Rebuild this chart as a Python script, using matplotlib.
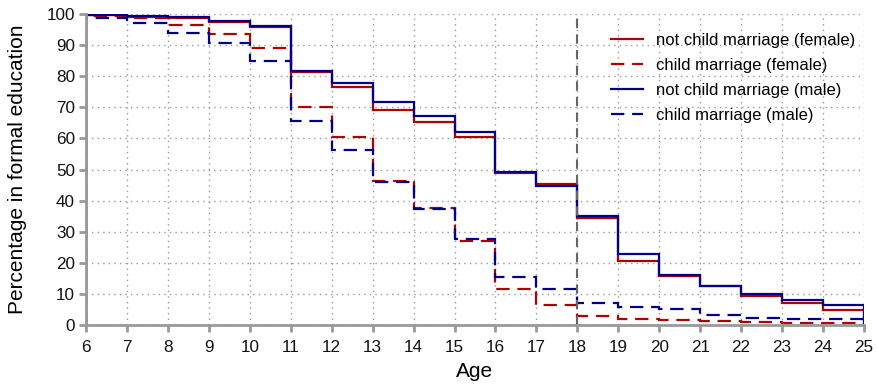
import numpy as np
import matplotlib
matplotlib.use("Agg")
from matplotlib import pyplot as plt

plt.rcParams["font.family"] = ["Liberation Sans", "DejaVu Sans"]

# age bins: each value holds from age to age+1
ages = list(range(6, 26))

female_not_child = [99.5, 99.1, 98.7, 97.4, 95.8, 81.2, 76.5, 69.2, 65.2, 60.3,
                    49.0, 45.2, 34.3, 20.6, 15.8, 12.5, 9.4, 7.0, 4.8]
female_child = [99.3, 98.7, 96.6, 93.4, 89.0, 70.0, 60.4, 46.3, 37.5, 27.1,
                11.6, 6.4, 3.0, 1.9, 1.6, 1.4, 1.1, 0.8, 0.8]
male_not_child = [99.7, 99.3, 98.9, 97.6, 96.0, 81.6, 77.9, 71.7, 67.2, 61.9,
                  49.3, 44.7, 35.0, 22.8, 16.1, 12.6, 10.0, 8.2, 6.3]
male_child = [98.8, 97.2, 93.9, 90.5, 85.0, 65.5, 56.4, 45.9, 37.3, 27.8,
              15.5, 11.7, 7.0, 5.7, 5.1, 3.4, 2.4, 2.1, 1.9]

RED = "#b00000"
BLUE = "#000088"
GRAY = "#999999"

fig = plt.figure(figsize=(8.78, 3.87), dpi=100)
ax = fig.add_axes([0.098, 0.16, 0.886, 0.804])

dash = (0, (6, 3.5))
ax.stairs(female_not_child, ages, color=RED, lw=1.6, label="not child marriage (female)")
ax.stairs(female_child, ages, color=RED, lw=1.6, ls=dash, label="child marriage (female)")
ax.stairs(male_not_child, ages, color=BLUE, lw=1.6, label="not child marriage (male)")
ax.stairs(male_child, ages, color=BLUE, lw=1.6, ls=dash, label="child marriage (male)")

ax.axvline(18, color="#666666", lw=1.5, ls=(0, (4.5, 3)), zorder=1)

ax.set_xlim(6, 25)
ax.set_ylim(0, 100)
ax.set_xticks(ages)
ax.set_yticks(range(0, 101, 10))
ax.grid(True, color=GRAY, ls=(0, (1, 3)), lw=1.0)
ax.set_axisbelow(True)

for side in ["top", "right"]:
    ax.spines[side].set_visible(False)
for side in ["left", "bottom"]:
    ax.spines[side].set_color(GRAY)
    ax.spines[side].set_linewidth(2)
ax.tick_params(colors=GRAY, width=2, length=5, labelcolor="#111111", labelsize=12.3)
ax.tick_params(axis="x", pad=6)
ax.tick_params(axis="y", pad=3)

ax.set_xlabel("Age", fontsize=15, labelpad=5)
ax.set_ylabel("Percentage in formal education", fontsize=15, labelpad=14)

leg = ax.legend(loc="upper right", bbox_to_anchor=(0.998, 0.96), frameon=False,
                fontsize=12, handlelength=1.9, borderaxespad=0,
                labelspacing=0.59, handletextpad=0.8)

fig.savefig("out.png", dpi=100)
